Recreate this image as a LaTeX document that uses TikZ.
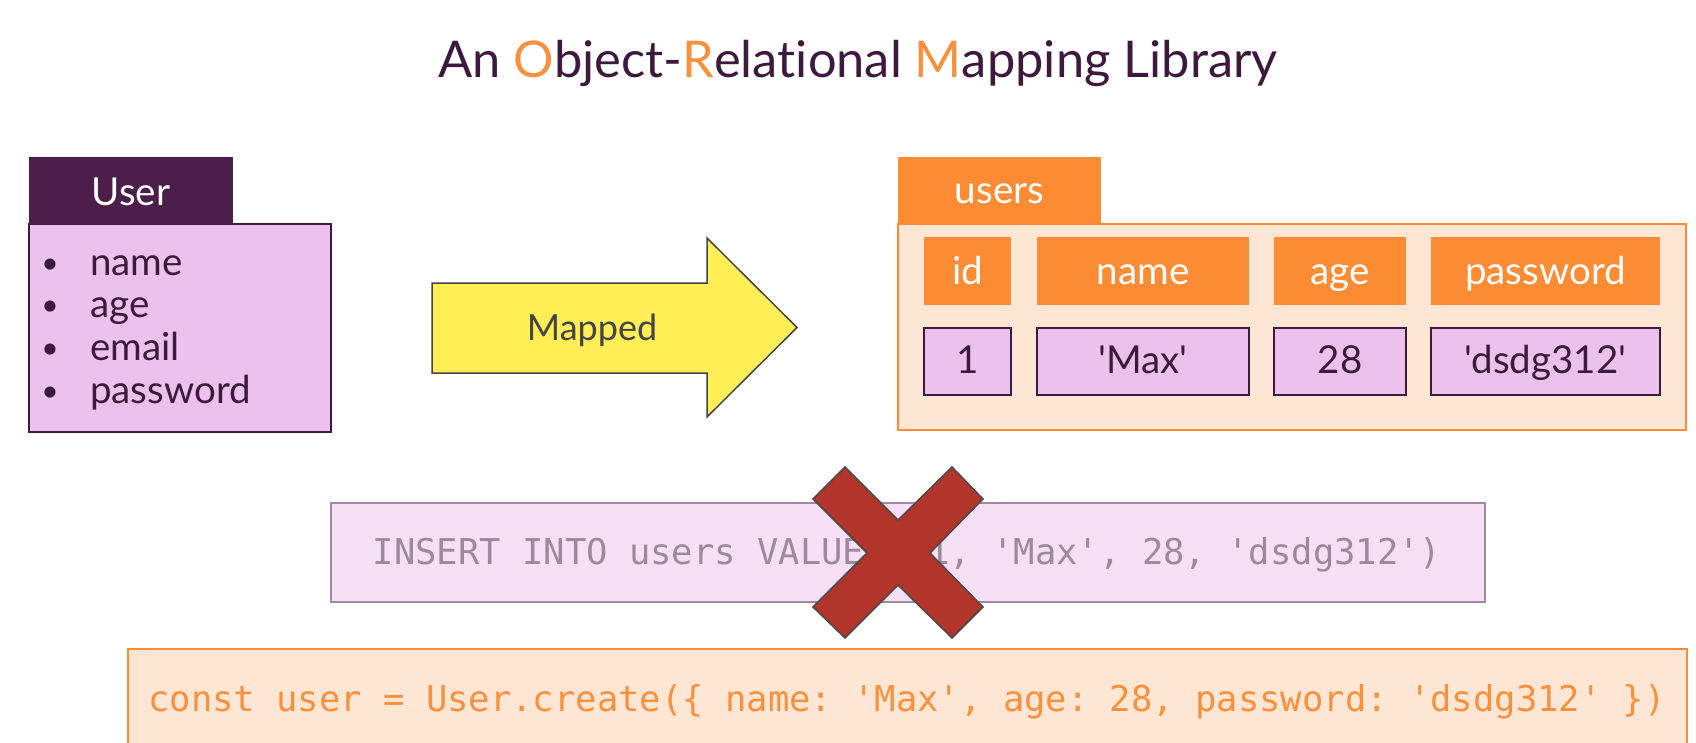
\documentclass[tikz,border=0pt]{standalone}
\usepackage{fontspec}
\setmainfont{Lato}[Ligatures={TeXOff,CommonOff}]
\setmonofont{DejaVu Sans Mono}
\definecolor{dpurple}{HTML}{4B1F49}
\definecolor{tpurple}{HTML}{3D1A3D}
\definecolor{lpurple}{HTML}{ECC1EC}
\definecolor{orng}{HTML}{FC8C34}
\definecolor{torng}{HTML}{F7913D}
\definecolor{peach}{HTML}{FEE6D4}
\definecolor{yel}{HTML}{FFEE55}
\definecolor{sqlfill}{HTML}{F7E0F5}
\definecolor{sqlline}{HTML}{A08AA0}
\definecolor{sqltext}{HTML}{9C8A9C}
\definecolor{xred}{HTML}{B3342A}
\definecolor{xline}{HTML}{4A4A4A}
\definecolor{mtext}{HTML}{444444}
\tikzset{
  box/.style={rectangle, inner sep=0pt, outer sep=0pt, anchor=north west},
  lbl/.style={font=\fontsize{38.5}{44}\selectfont},
  hcell/.style={box, fill=orng, text=white, lbl, text height=26pt, text depth=0pt},
  vcell/.style={box, fill=lpurple, draw=tpurple, line width=1.5pt, text=tpurple, lbl, text height=23pt, text depth=0pt},
  item/.style={anchor=base west, inner sep=0pt, text=tpurple, lbl},
  bul/.style={anchor=base, inner sep=0pt, text=tpurple, font=\fontsize{30}{34}\selectfont},
  code/.style={font=\ttfamily\fontsize{35.5}{40}\selectfont, inner sep=0pt, anchor=base},
}
\newcommand{\bx}[5]{\node[#1, minimum width=#4-#2, minimum height=#5-#3] at (#2,#3)}
\begin{document}
\begin{tikzpicture}[x=1pt,y=-1pt]
\useasboundingbox (0,0) rectangle (1696,742);
\clip (0,0) rectangle (1696,742);
% title
\node[anchor=base, inner sep=0pt, text=tpurple, font=\fontsize{50.6}{58}\selectfont] (title) at (858,77)
  {An \textcolor{torng}{O}bject-\textcolor{torng}{R}elational \textcolor{torng}{M}apping Library};
% User class
\bx{box, fill=lpurple, draw=tpurple, line width=1.5pt}{29}{224}{331}{432} (ubody) {};
\bx{box, fill=dpurple, text=white, lbl, text height=29pt, text depth=0pt}{29}{157}{233}{224} (utab) {User};
\node[bul] (b1) at (50,273) {•};
\node[bul] (b2) at (50,315) {•};
\node[bul] (b3) at (50,358) {•};
\node[bul] (b4) at (50,401) {•};
\node[item] (i1) at (90,275) {name};
\node[item] (i2) at (90,317) {age};
\node[item] (i3) at (90,360) {email};
\node[item] (i4) at (90,403) {password};
% arrow
\draw[fill=yel, draw=mtext, line width=1.5pt] (432,283) -- (707,283) -- (707,238) -- (797,327.5) -- (707,417) -- (707,373) -- (432,373) -- cycle;
\node[inner sep=0pt, text=mtext, font=\fontsize{36}{42}\selectfont] (mapped) at (592,330) {Mapped};
% users table
\bx{box, fill=peach, draw=orng, line width=2pt}{898}{224}{1686}{430} (tbody) {};
\bx{box, fill=orng, text=white, lbl, text height=25pt, text depth=0pt}{898}{157}{1101}{224} (ttab) {users};
\bx{hcell}{924}{237}{1011}{305} (h1) {id};
\bx{hcell}{1037}{237}{1249}{305} (h2) {name};
\bx{hcell}{1274}{237}{1406}{305} (h3) {age};
\bx{hcell}{1431}{237}{1660}{305} (h4) {password};
\bx{vcell}{924}{328}{1011}{395} (v1) {1};
\bx{vcell}{1037}{328}{1249}{395} (v2) {'Max'};
\bx{vcell}{1274}{328}{1406}{395} (v3) {28};
\bx{vcell}{1431}{328}{1660}{395} (v4) {'dsdg312'};
% SQL box
\bx{box, fill=sqlfill, draw=sqlline, line width=2pt}{331}{503}{1485}{602} (sql) {};
\node[code, text=sqltext] (sqltxt) at (907,564) {INSERT INTO users VALUES (1, 'Max', 28, 'dsdg312')};
% red X
\draw[fill=xred, draw=xline, line width=1.5pt]
  (813,499) -- (845,467) -- (898,520) -- (952,467) -- (983,499) -- (930,553) --
  (983,607) -- (952,638) -- (898,585) -- (845,638) -- (813,607) -- (867,553) -- cycle;
% code box
\bx{box, fill=peach, draw=orng, line width=2pt}{128}{649}{1687}{760} (codebox) {};
\node[code, text=torng] (codetxt) at (907,711) {const user = User.create(\{ name: 'Max', age: 28, password: 'dsdg312' \})};
\end{tikzpicture}
\end{document}
